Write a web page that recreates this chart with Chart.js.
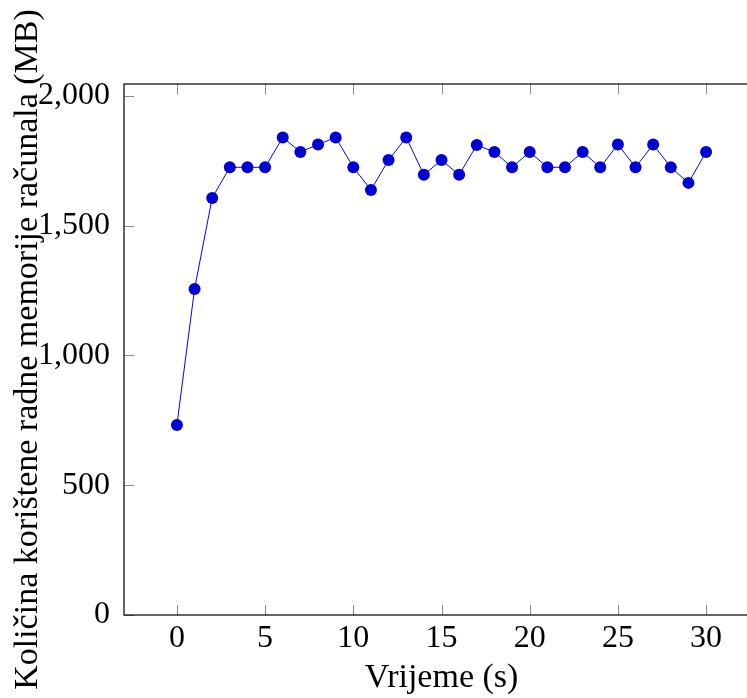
<!DOCTYPE html>
<html>
<head>
<meta charset="utf-8">
<script src="https://cdn.jsdelivr.net/npm/chart.js@4"></script>
<style>
  html, body { margin: 0; padding: 0; background: #fff; overflow: hidden; }
  #wrap { width: 747px; height: 698px; overflow: hidden; }
</style>
</head>
<body>
<div id="wrap"><canvas id="myChart" width="772" height="698"></canvas></div>
<script>
// seconds 0..30
const seconds = [0, 1, 2, 3, 4, 5, 6, 7, 8, 9, 10, 11, 12, 13, 14, 15, 16, 17, 18, 19, 20, 21, 22, 23, 24, 25, 26, 27, 28, 29, 30];
// used memory in MB
const memoryMB = [732, 1256, 1607, 1725, 1725, 1725, 1840, 1784, 1813, 1840, 1725, 1638, 1753, 1840, 1696, 1753, 1696, 1811, 1784, 1725, 1784, 1725, 1725, 1784, 1725, 1813, 1725, 1813, 1725, 1665, 1784];
const xTickValues = [0, 5, 10, 15, 20, 25, 30];
const yTickValues = [0, 500, 1000, 1500, 2000];

const serif = "'Liberation Serif', 'DejaVu Serif', serif";

// box around the plot area plus inward ticks on all four sides
const frame = {
  id: 'frame',
  afterDraw(chart) {
    const { ctx, chartArea: a, scales } = chart;
    const len = 10;
    ctx.save();
    ctx.strokeStyle = '#8c8c8c';
    ctx.lineWidth = 1;
    ctx.beginPath();
    xTickValues.forEach(v => {
      const px = Math.round(scales.x.getPixelForValue(v)) + 0.5;
      ctx.moveTo(px, a.bottom); ctx.lineTo(px, a.bottom - len);
      ctx.moveTo(px, a.top); ctx.lineTo(px, a.top + len);
    });
    yTickValues.forEach(v => {
      const py = Math.round(scales.y.getPixelForValue(v)) + 0.5;
      ctx.moveTo(a.left, py); ctx.lineTo(a.left + len, py);
      ctx.moveTo(a.right, py); ctx.lineTo(a.right - len, py);
    });
    ctx.stroke();
    ctx.strokeStyle = '#000';
    ctx.lineWidth = 1.2;
    ctx.strokeRect(a.left, a.top, a.right - a.left, a.bottom - a.top);
    ctx.restore();
  }
};

const ctx = document.getElementById('myChart').getContext('2d');
const myChart = new Chart(ctx, {
  type: 'line',
  data: {
    datasets: [
      {
        data: seconds.map((s, i) => ({ x: s, y: memoryMB[i] })),
        borderColor: '#0000ff',
        borderWidth: 1,
        backgroundColor: '#0000d4',
        pointBackgroundColor: '#0000d4',
        pointBorderColor: '#0000d4',
        pointRadius: 6,
        pointBorderWidth: 0,
        tension: 0,
      },
    ],
  },
  options: {
    responsive: false,
    animation: false,
    layout: { padding: { top: 84, right: 13, left: 0, bottom: 0 } },
    plugins: {
      legend: { display: false },
      tooltip: { enabled: false },
    },
    scales: {
      x: {
        type: 'linear',
        min: -3,
        max: 33,
        afterBuildTicks: s => { s.ticks = xTickValues.map(v => ({ value: v })); },
        afterFit: s => { s.height = 83; },
        grid: { display: true, drawOnChartArea: false, drawTicks: false },
        border: { display: false },
        ticks: {
          padding: 4,
          color: '#000',
          maxRotation: 0,
          font: { family: serif, size: 32 },
        },
        title: {
          display: true,
          text: 'Vrijeme (s)',
          color: '#000',
          padding: { top: 0, bottom: 0 },
          font: { family: serif, size: 34, lineHeight: 1.2 },
        },
      },
      y: {
        type: 'linear',
        min: 0,
        max: 2046,
        afterBuildTicks: s => { s.ticks = yTickValues.map(v => ({ value: v })); },
        afterFit: s => { s.width = 124; },
        grid: { display: true, drawOnChartArea: false, drawTicks: false },
        border: { display: false },
        ticks: {
          padding: 14,
          color: '#000',
          font: { family: serif, size: 32 },
          callback: function (value) {
            return value.toLocaleString('en-US');
          },
        },
        title: {
          display: true,
          text: 'Količina korištene radne memorije računala (MB)',
          color: '#000',
          padding: { top: 8, bottom: 0 },
          font: { family: serif, size: 34, lineHeight: 1.2 },
        },
      },
    },
  },
  plugins: [frame],
});
</script>
</body>
</html>
